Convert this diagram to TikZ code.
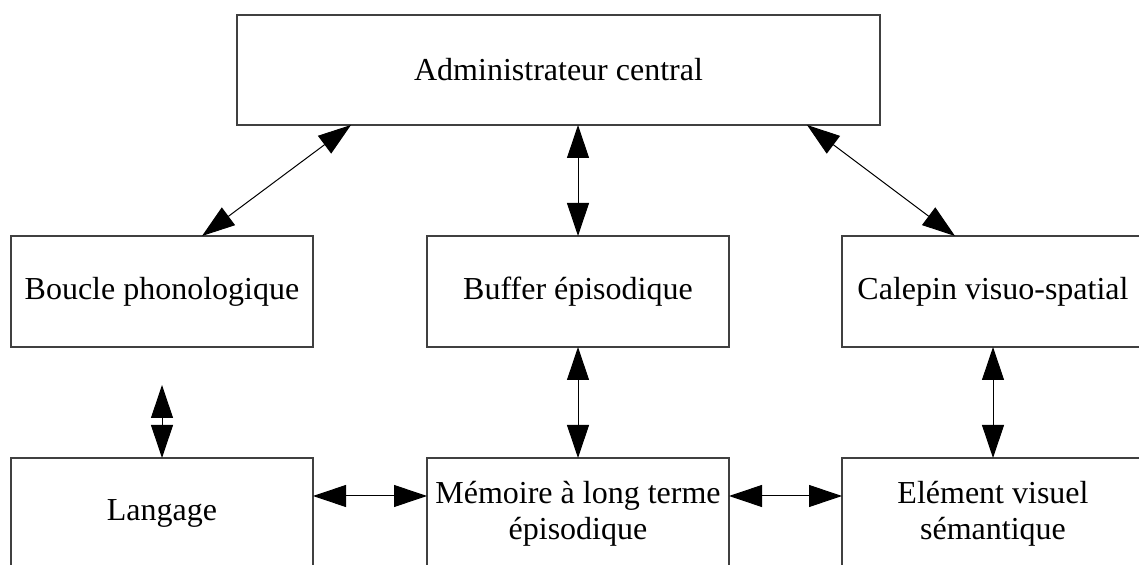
\documentclass[tikz,border=0pt]{standalone}
\usepackage{fontspec}
\setmainfont{Liberation Serif}
\usetikzlibrary{arrows.meta}
\begin{document}
\begin{tikzpicture}[x=0.5pt,y=-0.5pt,
  box/.style={draw=black!75,line width=0.7pt,inner sep=0pt,outer sep=0pt,
    minimum width=151pt,minimum height=55.5pt,align=center,
    font=\fontsize{16}{18}\selectfont},
  conn/.style={line width=0.5pt,
    {Triangle[length=16.5pt,width=11pt]}-{Triangle[length=16.5pt,width=11pt]}}]
\useasboundingbox[fill=white] (0,0) rectangle (1139,565);
\clip (0,0) rectangle (1139,565);
\node[box,minimum width=321.5pt,minimum height=55pt] (adm) at (558.5,70) {Administrateur central};
\node[box] (boucle) at (162,291.5) {Boucle phonologique};
\node[box] (buffer) at (578,291.5) {Buffer épisodique};
\node[box] (calepin) at (993,291.5) {Calepin visuo-spatial};
\node[box] (langage) at (162,513.5) {Langage};
\node[box] (memoire) at (578,513.5) {Mémoire à long terme\\épisodique};
\node[box] (element) at (993,513.5) {Elément visuel\\sémantique};
\coordinate (bfree) at (162,385);
\draw[conn] ([xshift=57pt]adm.south west) -- ([xshift=95.5pt]boucle.north west);
\draw[conn] (adm.south -| buffer.north) -- (buffer.north);
\draw[conn] ([xshift=285pt]adm.south west) -- ([xshift=56.5pt]calepin.north west);
\draw[conn] (bfree) -- (langage.north);
\draw[conn] (buffer.south) -- (memoire.north);
\draw[conn] (calepin.south) -- (element.north);
\draw[conn] (langage.east |- 0,496) -- (memoire.west |- 0,496);
\draw[conn] (memoire.east |- 0,496) -- (element.west |- 0,496);
\end{tikzpicture}
\end{document}
